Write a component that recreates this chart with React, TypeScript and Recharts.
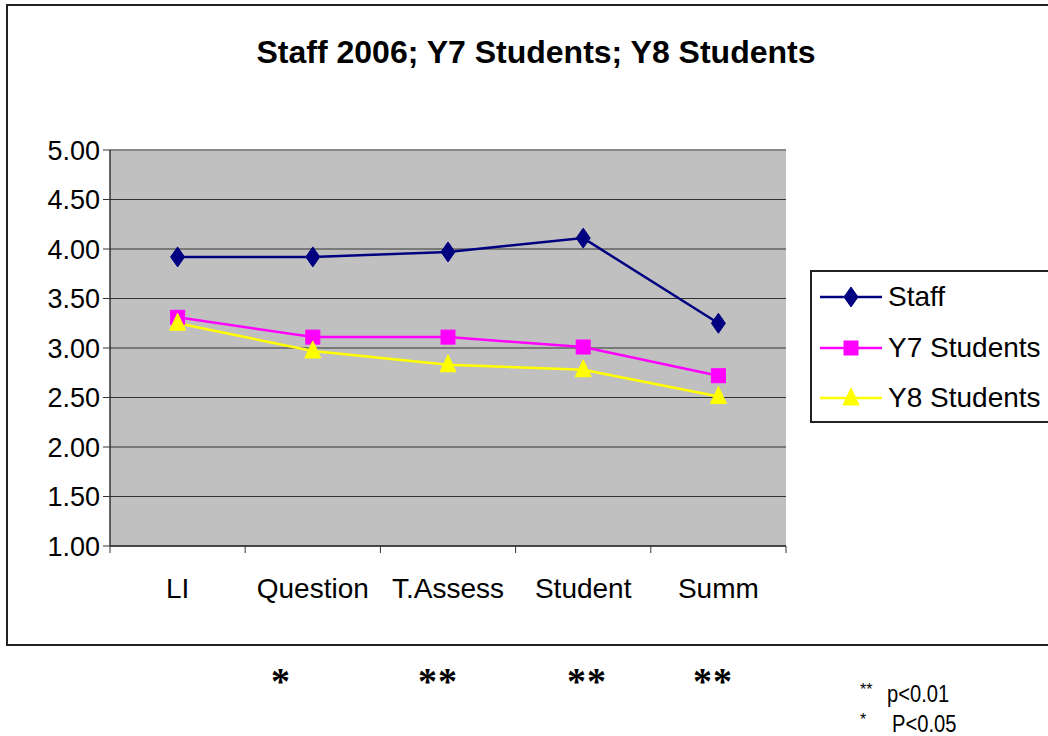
import { LineChart, Line, XAxis, YAxis, CartesianGrid, Legend, ReferenceLine } from "recharts";

const categories = ["LI", "Question", "T.Assess", "Student", "Summ"];
const staff = [3.92, 3.92, 3.97, 4.11, 3.25];
const y7Students = [3.31, 3.11, 3.11, 3.01, 2.72];
const y8Students = [3.25, 2.97, 2.83, 2.78, 2.51];
const yTicks = [1, 1.5, 2, 2.5, 3, 3.5, 4, 4.5, 5];

// significance marks under the categories, with footnote
const stars = [
  { text: "*", x: 281 },
  { text: "**", x: 438 },
  { text: "**", x: 587 },
  { text: "**", x: 713 },
];
const footnotes = [
  { mark: "**", label: "p<0.01", x: 887, top: 682 },
  { mark: "*", label: "P<0.05", x: 892, top: 712 },
];

const data = categories.map((name, i) => ({
  name,
  Staff: staff[i],
  "Y7 Students": y7Students[i],
  "Y8 Students": y8Students[i],
}));

const FONT = "'Liberation Sans', Arial, sans-serif";

const NAVY = "#000080";
const MAGENTA = "#FF00FF";
const YELLOW = "#FFFF00";

const X_TICK_SIZE = 7;
const X_TICK_MARGIN = 25;

function marker(kind: string, cx: number, cy: number, key?: string) {
  if (kind === "diamond") {
    return (
      <path key={key} d={`M${cx},${cy - 10}L${cx + 7},${cy}L${cx},${cy + 10}L${cx - 7},${cy}Z`} fill={NAVY} stroke={NAVY} />
    );
  }
  if (kind === "square") {
    return <rect key={key} x={cx - 7} y={cy - 7} width={14} height={14} fill={MAGENTA} stroke={MAGENTA} />;
  }
  return (
    <path key={key} d={`M${cx},${cy - 10}L${cx + 8},${cy + 7}L${cx - 8},${cy + 7}Z`} fill={YELLOW} stroke={YELLOW} />
  );
}

const dotFor = (kind: string) => (props: any) => {
  const { cx, cy, index } = props;
  if (cx == null || cy == null) return <g key={index} />;
  return marker(kind, cx, cy, `${kind}-${index}`);
};

// category label plus Excel-style tick marks on the band edges
function CategoryTick(props: any) {
  const { x, y, payload, index } = props;
  const half = payload?.offset ?? 0;
  const axisY = y - X_TICK_SIZE - X_TICK_MARGIN;
  return (
    <g>
      <line x1={x - half} x2={x - half} y1={axisY} y2={axisY + X_TICK_SIZE} stroke="#333" />
      {index === categories.length - 1 && (
        <line x1={x + half} x2={x + half} y1={axisY} y2={axisY + X_TICK_SIZE} stroke="#333" />
      )}
      <text x={x} y={y} dy="0.71em" textAnchor="middle" fill="#000" fontFamily={FONT} fontSize={28}>
        {payload.value}
      </text>
    </g>
  );
}

const legendItems = [
  { name: "Staff", color: NAVY, kind: "diamond" },
  { name: "Y7 Students", color: MAGENTA, kind: "square" },
  { name: "Y8 Students", color: YELLOW, kind: "triangle" },
];

function LegendBox() {
  return (
    <div
      style={{
        width: 250,
        height: 153,
        border: "2px solid #222",
        background: "#fff",
        boxSizing: "border-box",
      }}
    >
      {legendItems.map((it) => (
        <div key={it.name} style={{ display: "flex", alignItems: "center", height: 50.5 }}>
          <svg width={76} height={26} style={{ display: "block" }}>
            <line x1={8} x2={70} y1={13} y2={13} stroke={it.color} strokeWidth={2.5} />
            {marker(it.kind, 39, 13)}
          </svg>
          <span style={{ fontFamily: FONT, fontSize: 28, color: "#000", lineHeight: 1 }}>{it.name}</span>
        </div>
      ))}
    </div>
  );
}

export default function App() {
  return (
    <div
      style={{
        position: "fixed",
        left: 0,
        top: 0,
        width: 1048,
        height: 736,
        overflow: "hidden",
        background: "#fff",
      }}
    >
      <div
        style={{
          position: "absolute",
          left: 6,
          top: 4,
          width: 1080,
          height: 642,
          border: "2px solid #222",
          boxSizing: "border-box",
        }}
      />
      <div
        style={{
          position: "absolute",
          left: 0,
          width: 1072,
          top: 36,
          textAlign: "center",
          fontFamily: FONT,
          fontWeight: "bold",
          fontSize: 32,
          lineHeight: "32px",
        }}
      >
        Staff 2006; Y7 Students; Y8 Students
      </div>
      <div style={{ position: "absolute", left: 0, top: 0 }}>
        <LineChart width={1048} height={736} data={data} margin={{ top: 150, right: 262, bottom: 130, left: 0 }}>
          <CartesianGrid vertical={false} fill="#C0C0C0" stroke="#333" strokeWidth={1} />
          <XAxis
            dataKey="name"
            scale="band"
            height={60}
            tickLine={false}
            tickSize={X_TICK_SIZE}
            tickMargin={X_TICK_MARGIN}
            axisLine={{ stroke: "#333", strokeWidth: 1.5 }}
            tick={CategoryTick}
            interval={0}
          />
          <XAxis xAxisId="edges" type="number" domain={[0, 5]} hide />
          <YAxis
            width={110}
            domain={[1, 5]}
            ticks={yTicks}
            interval={0}
            tickSize={7}
            tickMargin={3}
            tickFormatter={(v: number) => v.toFixed(2)}
            axisLine={{ stroke: "#333", strokeWidth: 1.5 }}
            tickLine={{ stroke: "#333" }}
            tick={{ fill: "#000", fontFamily: FONT, fontSize: 27 }}
          />
          <ReferenceLine xAxisId="edges" x={5} stroke="#888" strokeWidth={1.5} />
          <ReferenceLine y={5} stroke="#888" strokeWidth={1.5} />
          <Legend
            layout="vertical"
            align="center"
            verticalAlign="middle"
            wrapperStyle={{ left: 810, top: 270, width: 250 }}
            content={() => <LegendBox />}
          />
          <Line
            dataKey="Staff"
            stroke={NAVY}
            strokeWidth={2.5}
            dot={dotFor("diamond")}
            activeDot={false}
            isAnimationActive={false}
          />
          <Line
            dataKey="Y7 Students"
            stroke={MAGENTA}
            strokeWidth={2.5}
            dot={dotFor("square")}
            activeDot={false}
            isAnimationActive={false}
          />
          <Line
            dataKey="Y8 Students"
            stroke={YELLOW}
            strokeWidth={2.5}
            dot={dotFor("triangle")}
            activeDot={false}
            isAnimationActive={false}
          />
        </LineChart>
      </div>
      {stars.map((s, i) => (
        <div
          key={i}
          style={{
            position: "absolute",
            left: s.x - 50,
            width: 100,
            top: 662,
            textAlign: "center",
            fontFamily: "'Liberation Serif', 'Times New Roman', serif",
            fontWeight: "bold",
            fontSize: 38,
            lineHeight: "38px",
            letterSpacing: 1,
          }}
        >
          {s.text}
        </div>
      ))}
      {footnotes.map((f) => (
        <div key={f.label}>
          <div
            style={{
              position: "absolute",
              left: 860,
              top: f.top,
              fontFamily: FONT,
              fontSize: 16,
              lineHeight: "16px",
            }}
          >
            {f.mark}
          </div>
          <div
            style={{
              position: "absolute",
              left: f.x,
              top: f.top,
              fontFamily: FONT,
              fontSize: 24,
              lineHeight: "24px",
              transform: "scaleX(0.84)",
              transformOrigin: "left top",
              whiteSpace: "nowrap",
            }}
          >
            {f.label}
          </div>
        </div>
      ))}
    </div>
  );
}
